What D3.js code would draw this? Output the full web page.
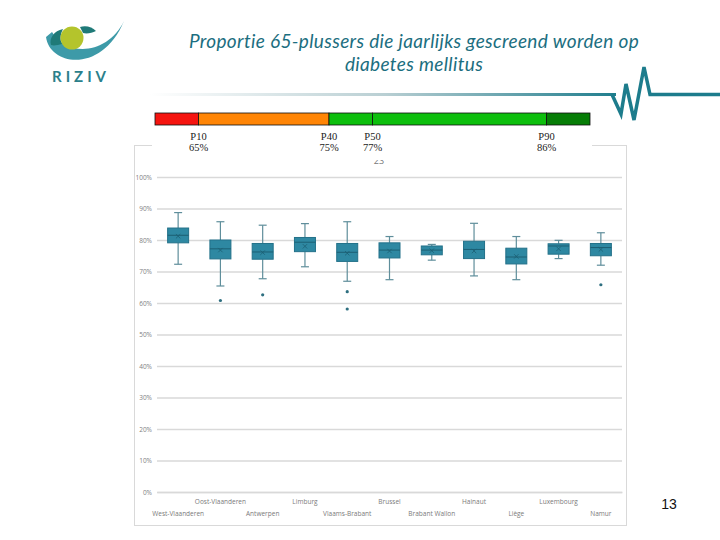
<!DOCTYPE html>
<html><head><meta charset="utf-8">
<script src="https://cdn.jsdelivr.net/npm/d3@7"></script>
<style>body{margin:0;background:#fff}svg{display:block}</style>
</head><body>
<svg id="c" width="720" height="540"></svg>
<script>
const categories = ["West-Vlaanderen","Oost-Vlaanderen","Antwerpen","Limburg","Vlaams-Brabant","Brussel","Brabant Wallon","Hainaut","Liège","Luxembourg","Namur"];
const whiskerLow  = [72.3, 65.4, 67.7, 71.5, 66.9, 67.4, 73.6, 68.6, 67.4, 74.1, 72.0];
const q1          = [79.1, 74.0, 73.9, 76.3, 73.2, 74.3, 75.3, 74.1, 72.4, 75.5, 75.0];
const median      = [81.5, 77.2, 76.2, 79.3, 76.1, 76.8, 76.8, 77.0, 74.6, 78.1, 77.6];
const q3          = [83.8, 80.0, 78.9, 80.8, 78.9, 79.1, 78.1, 79.6, 77.4, 78.8, 78.9];
const whiskerHigh = [88.7, 85.8, 84.7, 85.2, 85.8, 81.1, 78.6, 85.3, 81.1, 79.9, 82.3];
const means       = [81.2, 76.8, 76.0, 78.0, 75.8, 76.5, 76.6, 76.5, 74.8, 77.2, 77.0];
const outliers    = [[], [60.8], [62.6], [], [63.6, 58.1], [], [], [], [], [], [65.8]];
const yTicks = [0,10,20,30,40,50,60,70,80,90,100];
const pctNames  = ["P10","P40","P50","P90"];
const pctRanks  = [10, 40, 50, 90];
const pctValues = ["65%","75%","77%","86%"];
const bandColors = ["#f5140f","#ff8505","#0dbf0d","#0dbf0d","#067d06"];

const svg = d3.select("#c");

// ---------- Logo ----------
const logo = svg.append("g");
logo.append("path").attr("d","M46,37 C50,66 102,74 124,21 C108,54 68,58 52,32 Z").attr("fill","#3d9aa8");
logo.append("path").attr("d","M51,45 C49,38 54,31 63,29 C60,35 60,40 62,44 C58,45 54,46 51,45 Z").attr("fill","#1f7a78");
logo.append("path").attr("d","M80,27 C86,25 92,27 96,31 C92,33 87,34 83,33 C82,31 81,29 80,27 Z").attr("fill","#1f7a78");
logo.append("circle").attr("cx",72).attr("cy",38).attr("r",11.5).attr("fill","#b4c42c");
logo.append("text").attr("x",52).attr("y",82).attr("font-family","Lato, sans-serif").attr("font-weight","bold")
  .attr("font-size",15).attr("letter-spacing",4).attr("fill","#2b7f8b").text("RIZIV");

// ---------- Title ----------
const title = svg.append("text").attr("text-anchor","middle").attr("font-family","Lato, sans-serif")
  .attr("font-style","italic").attr("font-size",19).attr("letter-spacing",0.35).attr("fill","#1b6e80");
title.append("tspan").attr("x",414).attr("y",48).text("Proportie 65-plussers die jaarlijks gescreend worden op");
title.append("tspan").attr("x",414).attr("y",71).text("diabetes mellitus");

// ---------- Heartbeat line ----------
const defs = svg.append("defs");
const lg = defs.append("linearGradient").attr("id","hb").attr("gradientUnits","userSpaceOnUse")
  .attr("x1",150).attr("x2",620).attr("y1",0).attr("y2",0);
lg.append("stop").attr("offset",0).attr("stop-color","#ffffff");
lg.append("stop").attr("offset",0.5).attr("stop-color","#b9cfd3");
lg.append("stop").attr("offset",1).attr("stop-color","#1d7c8c");
svg.append("rect").attr("x",150).attr("y",93).attr("width",466).attr("height",3).attr("fill","url(#hb)");
svg.append("path").attr("d","M612,94.5 L621,114 L626,84 L634,120 L644,67 L650,94.5 L720,94.5")
  .attr("fill","none").attr("stroke","#1d7c8c").attr("stroke-width",3.5).attr("stroke-linejoin","miter");

// ---------- Chart frame ----------
svg.append("rect").attr("x",134.5).attr("y",145.5).attr("width",492).attr("height",380)
  .attr("fill","#fff").attr("stroke","#d9d9d9").attr("stroke-width",1);
svg.append("text").attr("x",379).attr("y",164).attr("text-anchor","middle").attr("font-family","Open Sans, sans-serif")
  .attr("font-size",9).attr("fill","#777").text("23");

// ---------- Percentile bar ----------
const px = d3.scaleLinear().domain([0,100]).range([155,590]);
const bounds = [0, ...pctRanks, 100];
svg.append("rect").attr("x",152).attr("y",127).attr("width",440).attr("height",33).attr("fill","#fff");
svg.append("g").selectAll("rect").data(d3.range(bounds.length-1)).join("rect")
  .attr("x",i=>px(bounds[i])).attr("width",i=>px(bounds[i+1])-px(bounds[i]))
  .attr("y",113).attr("height",12).attr("fill",i=>bandColors[i])
  .attr("stroke","#111").attr("stroke-width",0.8);
const pl = svg.append("g").attr("font-family","Liberation Serif, serif").attr("font-size",10.5).attr("fill","#222");
pl.selectAll("text.n").data(pctNames).join("text").attr("class","n")
  .attr("x",(d,i)=>px(pctRanks[i])).attr("y",140).attr("text-anchor","middle").text(d=>d);
pl.selectAll("text.v").data(pctValues).join("text").attr("class","v")
  .attr("x",(d,i)=>px(pctRanks[i])).attr("y",151).attr("text-anchor","middle").text(d=>d);

// ---------- Box plot ----------
const x = d3.scaleBand().domain(categories).range([157,622]).paddingInner(0).paddingOuter(0);
const y = d3.scaleLinear().domain([0,100]).range([492,177]);

const yAxis = d3.axisLeft(y).tickValues(yTicks).tickSize(-(622-157)).tickFormat(d=>d+"%");
const ga = svg.append("g").attr("transform","translate(157,0)").call(yAxis);
ga.select(".domain").remove();
ga.selectAll(".tick line").attr("stroke","#d9d9d9").attr("stroke-width",1.3);
ga.selectAll(".tick text").attr("x",-5).attr("font-family","Open Sans, sans-serif").attr("font-size",6.5).attr("fill","#7f7f7f");

const xAxis = d3.axisBottom(x).tickSize(0);
const gx = svg.append("g").attr("transform","translate(0,492)").call(xAxis);
gx.select(".domain").attr("stroke","#d9d9d9").attr("stroke-width",1.3);
gx.selectAll(".tick text").attr("font-family","Open Sans, sans-serif").attr("font-size",6.5).attr("fill","#7a7a7a")
  .attr("y",(d,i)=> i%2===0 ? 24 : 12).attr("dy","0");

const bw = 21, cap = 8;
const g = svg.append("g");
categories.forEach((c,i)=>{
  const cx = x(c) + x.bandwidth()/2;
  const gg = g.append("g");
  gg.append("line").attr("x1",cx).attr("x2",cx).attr("y1",y(whiskerHigh[i])).attr("y2",y(q3[i]))
    .attr("stroke","#5f8e9b").attr("stroke-width",1.2);
  gg.append("line").attr("x1",cx).attr("x2",cx).attr("y1",y(q1[i])).attr("y2",y(whiskerLow[i]))
    .attr("stroke","#5f8e9b").attr("stroke-width",1.2);
  [whiskerHigh[i], whiskerLow[i]].forEach(v=>{
    gg.append("line").attr("x1",cx-cap/2).attr("x2",cx+cap/2).attr("y1",y(v)).attr("y2",y(v))
      .attr("stroke","#5f8e9b").attr("stroke-width",1.2);
  });
  gg.append("rect").attr("x",cx-bw/2).attr("width",bw).attr("y",y(q3[i])).attr("height",y(q1[i])-y(q3[i]))
    .attr("fill","#2e88a2").attr("stroke","#237189").attr("stroke-width",1);
  gg.append("line").attr("x1",cx-bw/2).attr("x2",cx+bw/2).attr("y1",y(median[i])).attr("y2",y(median[i]))
    .attr("stroke","#1c5f73").attr("stroke-width",1);
  const m = y(means[i]), s = 2.2;
  gg.append("path").attr("d",`M${cx-s},${m-s}L${cx+s},${m+s}M${cx-s},${m+s}L${cx+s},${m-s}`)
    .attr("stroke","#1c5f73").attr("stroke-width",0.8);
  outliers[i].forEach(v=>{
    gg.append("circle").attr("cx",cx).attr("cy",y(v)).attr("r",1.6).attr("fill","#2e6f80");
  });
});

// ---------- Page number ----------
svg.append("text").attr("x",669).attr("y",509).attr("text-anchor","middle").attr("font-family","Liberation Sans, Arial, sans-serif")
  .attr("font-size",14).attr("fill","#111").text("13");
</script>
</body></html>
